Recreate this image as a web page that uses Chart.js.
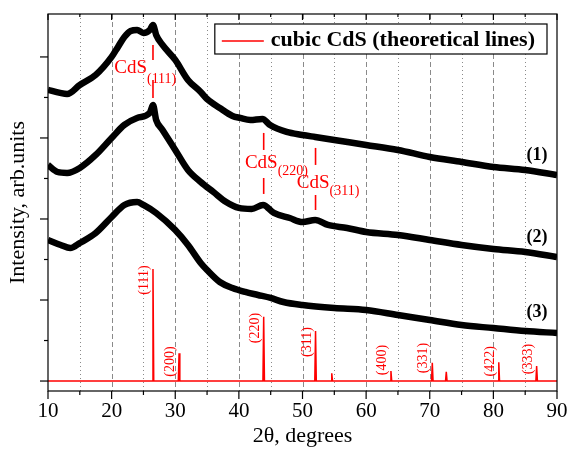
<!DOCTYPE html>
<html lang="en">
<head>
    <meta charset="UTF-8">
    <title>XRD - cubic CdS</title>
    <script src="https://cdn.jsdelivr.net/npm/chart.js"></script>
    <style>
        body { margin: 0; background: #fff; }
        #wrap { width: 569px; height: 449px; }
    </style>
</head>
<body>
    <div id="wrap"><canvas id="xrdChart" width="569" height="449"></canvas></div>

    <script>
        // measured patterns (1), (2), (3) - arbitrary intensity units
        const curve1X = [10, 11.9, 13, 15, 17.5, 20, 21, 22, 23, 24, 25, 26, 26.5, 27, 28, 30, 32, 34, 35, 37, 39, 40.2, 41.8, 43.7, 44.9, 47.5, 50, 52, 55, 60, 65, 70, 75, 80, 85, 90];
        const curve1Y = [359.3, 355.6, 354.3, 365.4, 377.8, 400.0, 412.4, 424.7, 432.1, 433.3, 429.6, 433.3, 439.5, 427.2, 414.8, 396.3, 371.6, 356.8, 348.1, 337.0, 327.2, 324.7, 322.2, 323.5, 315.9, 307.4, 303.7, 301.2, 297.5, 291.4, 285.2, 276.5, 270.4, 264.2, 260.5, 254.3];

        const curve2X = [10, 11.5, 13, 15, 17.5, 20, 22, 24, 26, 26.5, 27, 28, 30, 32, 34, 36, 38, 40, 42, 43.8, 45.5, 48, 50, 52, 54, 57, 60, 65, 70, 75, 80, 85, 90];
        const curve2Y = [266.7, 258.0, 256.8, 263.0, 279.0, 300.0, 316.1, 324.7, 330.9, 340.7, 322.2, 309.9, 285.2, 260.5, 245.7, 233.3, 221.0, 213.6, 212.3, 217.3, 207.4, 201.2, 196.3, 198.8, 192.6, 188.9, 184.0, 180.2, 174.1, 167.9, 163.0, 159.3, 153.1];

        const curve3X = [10, 12, 13.5, 15, 17.5, 20, 22, 24, 25, 27, 30, 32, 34, 35, 37, 39, 41, 43, 45, 47, 50, 55, 60, 65, 70, 75, 80, 85, 90];
        const curve3Y = [174.1, 167.9, 164.2, 170.4, 182.7, 202.5, 217.3, 221.0, 217.3, 207.4, 186.4, 167.9, 145.7, 137.0, 122.2, 114.8, 109.9, 106.2, 102.5, 97.5, 93.8, 90.1, 87.7, 81.5, 75.3, 69.1, 65.4, 61.7, 59.3];

        // theoretical cubic CdS lines
        const peakPos = [26.5, 30.6, 43.9, 52.05, 54.6, 63.9, 70.4, 72.6, 80.85, 86.8];
        const peakHeight = [138.3, 34.2, 79.4, 61.7, 9.5, 12.3, 22.6, 11.5, 23.1, 18.5];
        const peakLabel = ['(111)', '(200)', '(220)', '(311)', '', '(400)', '(331)', '', '(422)', '(333)'];
        const peakLabelY = [124.7, 24.1, 65.4, 48.1, null, 25.9, 28.4, null, 24.3, 27.2];

        // axis ticks
        const xMajorTicks = [10, 20, 30, 40, 50, 60, 70, 80, 90];
        const xMinorTicks = [15, 25, 35, 45, 55, 65, 75, 85];
        const yMajorTicks = [0, 100, 200, 300, 400];
        const yMinorTicks = [50, 150, 250, 350];

        const SERIF = '"Liberation Serif", "Times New Roman", serif';

        const pts = (xs, ys) => xs.map((x, i) => ({ x: x, y: ys[i] }));

        // stick pattern: zero baseline with a narrow spike at each line
        function stickData() {
            const d = [{ x: 10, y: 0 }];
            peakPos.forEach((p, i) => {
                d.push({ x: p - 0.12, y: 0 }, { x: p, y: peakHeight[i] }, { x: p + 0.12, y: 0 });
            });
            d.push({ x: 90, y: 0 });
            return d;
        }

        // CdS markers over the measured curves
        const cdsMarks = [
            { hkl: '(111)', x: 26.5, up: [414.8, 396.3], down: [371.6, 349.4], dx: -6, yMain: 385.8, ySub: 372.8 },
            { hkl: '(220)', x: 43.9, up: [306.2, 285.2], down: [250.6, 230.9], dx: 14, yMain: 268.5, ySub: 259.3 },
            { hkl: '(311)', x: 52.05, up: [287.7, 266.7], down: [229.6, 211.1], dx: 14, yMain: 244.4, ySub: 234.6 }
        ];
        const curveTags = [['(1)', 279.0], ['(2)', 177.8], ['(3)', 85.2]];

        const decor = {
            id: 'decor',
            beforeDatasetsDraw(chart) {
                const { ctx, chartArea: a, scales: { x } } = chart;
                ctx.save();
                ctx.strokeStyle = '#8a8a8a';
                ctx.lineWidth = 1;
                const vline = (v, dash) => {
                    const px = Math.round(x.getPixelForValue(v)) + 0.5;
                    ctx.setLineDash(dash);
                    ctx.beginPath();
                    ctx.moveTo(px, a.top);
                    ctx.lineTo(px, a.bottom);
                    ctx.stroke();
                };
                xMinorTicks.forEach(v => vline(v, [1, 3]));
                xMajorTicks.slice(1, -1).forEach(v => vline(v, [5, 3]));
                ctx.restore();
            },
            afterDatasetsDraw(chart) {
                const { ctx, chartArea: a, scales: { x, y } } = chart;
                ctx.save();
                ctx.strokeStyle = '#000';
                ctx.lineWidth = 1.2;
                ctx.strokeRect(a.left, a.top, a.right - a.left, a.bottom - a.top);

                const seg = (x1, y1, x2, y2) => {
                    ctx.beginPath(); ctx.moveTo(x1, y1); ctx.lineTo(x2, y2); ctx.stroke();
                };
                xMajorTicks.forEach(v => {
                    const px = x.getPixelForValue(v);
                    seg(px, a.bottom, px, a.bottom + 8);
                    seg(px, a.top, px, a.top + 6);
                });
                xMinorTicks.forEach(v => {
                    const px = x.getPixelForValue(v);
                    seg(px, a.bottom, px, a.bottom + 4);
                    seg(px, a.top, px, a.top + 3);
                });
                yMajorTicks.forEach(v => {
                    const py = y.getPixelForValue(v);
                    seg(a.left - 8, py, a.left, py);
                });
                yMinorTicks.forEach(v => {
                    const py = y.getPixelForValue(v);
                    seg(a.left - 4, py, a.left, py);
                });

                // hkl labels next to the theoretical lines
                ctx.fillStyle = '#ff0000';
                ctx.font = '14px ' + SERIF;
                ctx.textAlign = 'center';
                ctx.textBaseline = 'middle';
                peakLabel.forEach((t, i) => {
                    if (!t) return;
                    ctx.save();
                    ctx.translate(x.getPixelForValue(peakPos[i]) - 8.5, y.getPixelForValue(peakLabelY[i]));
                    ctx.rotate(-Math.PI / 2);
                    ctx.fillText(t, 0, 0);
                    ctx.restore();
                });

                // CdS(hkl) markers
                ctx.strokeStyle = '#ff0000';
                ctx.lineWidth = 1.6;
                cdsMarks.forEach(m => {
                    const px = x.getPixelForValue(m.x);
                    seg(px, y.getPixelForValue(m.up[0]), px, y.getPixelForValue(m.up[1]));
                    seg(px, y.getPixelForValue(m.down[0]), px, y.getPixelForValue(m.down[1]));
                    ctx.textAlign = 'right';
                    ctx.font = '19px ' + SERIF;
                    ctx.fillText('CdS', px + m.dx, y.getPixelForValue(m.yMain));
                    ctx.textAlign = 'left';
                    ctx.font = '14px ' + SERIF;
                    ctx.fillText(m.hkl, px + m.dx, y.getPixelForValue(m.ySub));
                });

                // pattern numbers
                ctx.fillStyle = '#000';
                ctx.font = 'bold 18px ' + SERIF;
                ctx.textAlign = 'center';
                curveTags.forEach(([t, v]) => ctx.fillText(t, x.getPixelForValue(86.86), y.getPixelForValue(v)));

                // legend box
                const ds = chart.data.datasets[0];
                ctx.font = 'bold 22px ' + SERIF;
                const tw = ctx.measureText(ds.label).width;
                const right = a.right - 10, top = a.top + 10, h = 30;
                const left = right - tw - 68;
                ctx.fillStyle = '#fff';
                ctx.fillRect(left, top, right - left, h);
                ctx.strokeStyle = '#000';
                ctx.lineWidth = 1.2;
                ctx.strokeRect(left, top, right - left, h);
                ctx.strokeStyle = ds.borderColor;
                ctx.lineWidth = 1.6;
                seg(left + 7, top + 17, left + 49, top + 17);
                ctx.fillStyle = '#000';
                ctx.textAlign = 'left';
                ctx.fillText(ds.label, left + 56, top + 16);
                ctx.restore();
            }
        };

        const blackLine = {
            borderColor: '#000',
            borderWidth: 6.5,
            pointRadius: 0,
            cubicInterpolationMode: 'monotone',
            fill: false
        };

        new Chart(document.getElementById('xrdChart'), {
            type: 'line',
            data: {
                datasets: [
                    {
                        label: 'cubic CdS (theoretical lines)',
                        data: stickData(),
                        borderColor: '#ff0000',
                        borderWidth: 1.5,
                        pointRadius: 0,
                        tension: 0
                    },
                    Object.assign({ label: '(1)', data: pts(curve1X, curve1Y) }, blackLine),
                    Object.assign({ label: '(2)', data: pts(curve2X, curve2Y) }, blackLine),
                    Object.assign({ label: '(3)', data: pts(curve3X, curve3Y) }, blackLine)
                ]
            },
            options: {
                responsive: false,
                animation: false,
                layout: { padding: { top: 14, right: 12, left: 0, bottom: 0 } },
                plugins: { legend: { display: false }, tooltip: { enabled: false } },
                scales: {
                    x: {
                        type: 'linear',
                        min: 10,
                        max: 90,
                        afterFit: s => { s.height = 58; s.paddingLeft = 0; s.paddingRight = 0; },
                        afterBuildTicks: s => { s.ticks = xMajorTicks.map(v => ({ value: v })); },
                        grid: { display: false, drawTicks: false },
                        border: { display: false },
                        ticks: { color: '#000', padding: 8, maxRotation: 0, font: { family: SERIF, size: 21 } },
                        title: { display: true, text: '2θ, degrees', color: '#000', padding: { top: 0, bottom: 0 }, font: { family: SERIF, size: 22 } }
                    },
                    y: {
                        type: 'linear',
                        min: -12.3,
                        max: 453,
                        afterFit: s => { s.width = 48; },
                        grid: { display: false, drawTicks: false },
                        border: { display: false },
                        ticks: { display: false },
                        title: { display: true, text: 'Intensity, arb.units', color: '#000', padding: { top: 5, bottom: 0 }, font: { family: SERIF, size: 22 } }
                    }
                }
            },
            plugins: [decor]
        });
    </script>
</body>
</html>
